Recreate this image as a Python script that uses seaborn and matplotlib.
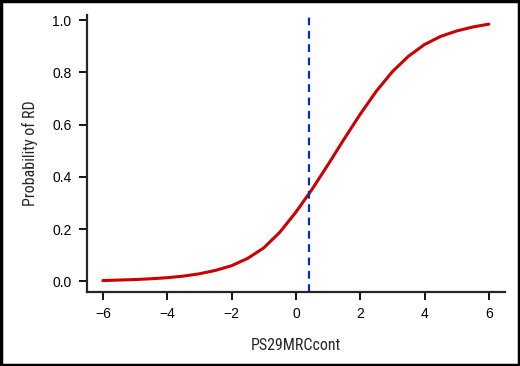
import numpy as np
import pandas as pd
import matplotlib.pyplot as plt
import seaborn as sns
from matplotlib import font_manager

# values
x_vals = [-6, -5.5, -5, -4.5, -4, -3.5, -3, -2.5, -2, -1.5, -1, -0.5,
          0, 0.5, 1, 1.5, 2, 2.5, 3, 3.5, 4, 4.5, 5, 5.5, 6]
prob_rd = [0.003, 0.005, 0.007, 0.010, 0.014, 0.020, 0.029, 0.042, 0.060,
           0.088, 0.128, 0.188, 0.265, 0.352, 0.447, 0.545, 0.640, 0.728,
           0.803, 0.862, 0.907, 0.938, 0.959, 0.974, 0.985]
cutoff = 0.4
x_ticks = [-6, -4, -2, 0, 2, 4, 6]
y_ticks = [0.0, 0.2, 0.4, 0.6, 0.8, 1.0]

df = pd.DataFrame({"PS29MRCcont": x_vals, "prob": prob_rd})

sns.set_style("ticks")
plt.rcParams['font.family'] = ['Liberation Sans', 'DejaVu Sans']

# pick a condensed face for the axis titles if one is installed
fonts = font_manager.fontManager.ttflist
names = {f.name for f in fonts}
label_kw = {"family": ["Liberation Sans", "DejaVu Sans"]}
for cand in ["Liberation Sans Narrow", "Roboto Condensed", "Open Sans Condensed", "Noto Sans Condensed"]:
    if cand in names:
        label_kw = {"family": [cand, "DejaVu Sans"]}
        break
else:
    if any(f.name == "DejaVu Sans" and f.stretch == "condensed" for f in fonts):
        label_kw = {"family": ["DejaVu Sans"], "fontstretch": "condensed"}

fig = plt.figure(figsize=(5.2, 3.66), dpi=100)
ax = fig.add_axes([0.167, 0.202, 0.804, 0.757])

sns.lineplot(data=df, x="PS29MRCcont", y="prob", color="#cc0000", linewidth=2.2, ax=ax)
ax.lines[0].set_solid_joinstyle("round")
ax.axvline(cutoff, color="#0033b0", linestyle=(0, (3.5, 2.5)), linewidth=1.6)

ax.set_xlim(-6.5, 6.5)
ax.set_ylim(-0.041, 1.02)
ax.set_xticks(x_ticks)
ax.set_xticklabels([f"\u2212{abs(t)}" if t < 0 else str(t) for t in x_ticks])
ax.set_yticks(y_ticks)
ax.set_yticklabels([f"{t:.1f}" for t in y_ticks])

sns.despine(ax=ax)
for s in ["left", "bottom"]:
    ax.spines[s].set_linewidth(1.6)
ax.tick_params(axis="both", length=6, width=1.3, labelsize=10, pad=5, colors="black")

ax.set_xlabel("PS29MRCcont", fontsize=11.5, labelpad=12, **label_kw)
ax.set_ylabel("Probability of RD", fontsize=11.5, labelpad=10, **label_kw)

# black frame around the whole figure
fig.patches.append(plt.Rectangle((0.002, 0.003), 0.996, 0.994, transform=fig.transFigure,
                                 fill=False, edgecolor="black", linewidth=2.5))

fig.savefig("out.png", dpi=100)
